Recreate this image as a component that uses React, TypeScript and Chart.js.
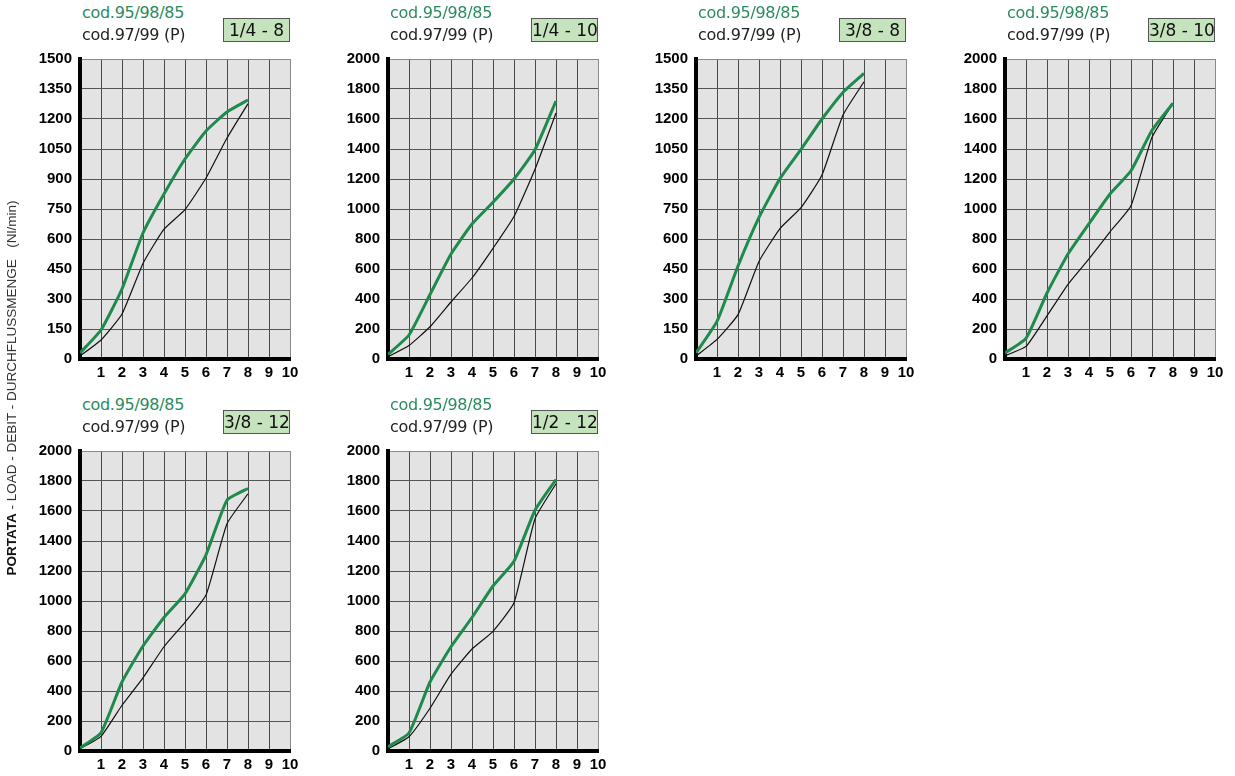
import React, { useEffect, useRef } from 'react';
import { Chart, registerables } from 'chart.js';

Chart.register(...registerables);

// ---- data ----
const xValues = [0, 1, 2, 3, 4, 5, 6, 7, 8];
const xTickLabels = ['', '1', '2', '3', '4', '5', '6', '7', '8', '9', '10'];
const panelTitles = ['1/4 - 8', '1/4 - 10', '3/8 - 8', '3/8 - 10', '3/8 - 12', '1/2 - 12'];
const yMaxValues = [1500, 2000, 1500, 2000, 2000, 2000];
const yStepValues = [150, 200, 150, 200, 200, 200];
const greenLabel = 'cod.95/98/85';
const blackLabel = 'cod.97/99 (P)';
const axisTitleBold = 'PORTATA';
const axisTitleRest = ' - LOAD - DEBIT - DURCHFLUSSMENGE';
const axisTitleUnit = '(Nl/min)';

const green_1_4_8 = [30, 145, 350, 630, 825, 1000, 1140, 1235, 1295];
const black_1_4_8 = [15, 95, 225, 478, 649, 747, 905, 1105, 1277];
const green_1_4_10 = [30, 160, 430, 700, 900, 1045, 1200, 1395, 1720];
const black_1_4_10 = [15, 90, 215, 380, 540, 738, 950, 1265, 1640];
const green_3_8_8 = [30, 188, 465, 708, 902, 1048, 1200, 1333, 1428];
const black_3_8_8 = [15, 98, 222, 488, 652, 757, 920, 1220, 1386];
const green_3_8_10 = [40, 138, 440, 700, 902, 1100, 1255, 1525, 1705];
const black_3_8_10 = [22, 84, 288, 498, 667, 848, 1022, 1478, 1705];
const green_3_8_12 = [20, 122, 460, 700, 890, 1048, 1308, 1672, 1750];
const black_3_8_12 = [15, 98, 305, 488, 695, 858, 1040, 1515, 1715];
const green_1_2_12 = [28, 120, 460, 695, 890, 1100, 1265, 1605, 1810];
const black_1_2_12 = [15, 95, 285, 512, 680, 798, 988, 1548, 1782];

const greenSeries = [green_1_4_8, green_1_4_10, green_3_8_8, green_3_8_10, green_3_8_12, green_1_2_12];
const blackSeries = [black_1_4_8, black_1_4_10, black_3_8_8, black_3_8_10, black_3_8_12, black_1_2_12];

// ---- layout ----
const PLOT_LEFTS = [80, 388, 696, 1005, 80, 388];
const PLOT_TOPS = [52, 52, 52, 52, 444, 444];
const PLOT_W = 210;
const PLOT_H = 307;
const Y_AXIS_W = 75;
const X_AXIS_H = 30;
const PAD_TOP = 10;
const PAD_RIGHT = 25;
const GREEN_LINE = '#1e8a4c';
const GREEN_TEXT = '#2a8c5c';
const TICK_FONT = { family: '"Liberation Sans", Arial, sans-serif', size: 15, weight: 'bold' };

const bgPlugin = {
  id: 'plotBg',
  beforeDraw(chart: any) {
    const { ctx, chartArea } = chart;
    if (!chartArea) return;
    ctx.save();
    ctx.fillStyle = '#e3e3e3';
    ctx.fillRect(chartArea.left, chartArea.top, chartArea.right - chartArea.left, chartArea.bottom - chartArea.top);
    ctx.restore();
  },
};

function Panel({ idx }: { idx: number }) {
  const ref = useRef<HTMLCanvasElement | null>(null);
  const left = PLOT_LEFTS[idx];
  const top = PLOT_TOPS[idx];
  const cw = Y_AXIS_W + PLOT_W + PAD_RIGHT;
  const ch = PAD_TOP + PLOT_H + X_AXIS_H;

  useEffect(() => {
    if (!ref.current) return;
    const yMax = yMaxValues[idx];
    const chart = new Chart(ref.current, {
      type: 'line',
      data: {
        datasets: [
          {
            label: greenLabel,
            data: xValues.map((x, i) => ({ x, y: greenSeries[idx][i] })),
            borderColor: GREEN_LINE,
            borderWidth: 3,
            pointRadius: 0,
            tension: 0.15,
            fill: false,
          },
          {
            label: blackLabel,
            data: xValues.map((x, i) => ({ x, y: blackSeries[idx][i] })),
            borderColor: '#111',
            borderWidth: 1.2,
            pointRadius: 0,
            tension: 0.15,
            fill: false,
          },
        ],
      },
      options: {
        animation: false,
        responsive: false,
        layout: { padding: { top: PAD_TOP, right: PAD_RIGHT, left: 0, bottom: 0 } },
        plugins: { legend: { display: false }, tooltip: { enabled: false } },
        scales: {
          x: {
            type: 'linear',
            min: 0,
            max: 10,
            afterFit: (s: any) => { s.height = X_AXIS_H; },
            ticks: {
              stepSize: 1,
              autoSkip: false,
              maxRotation: 0,
              padding: 5,
              color: '#000',
              font: TICK_FONT,
              callback: (v: any) => xTickLabels[Number(v)] ?? '',
            },
            grid: {
              drawTicks: false,
              color: (c: any) => (c.tick && c.tick.value === 10 ? '#8a8a8a' : '#4a4a4a'),
              lineWidth: 1,
            },
            border: { color: '#000', width: 4 },
          },
          y: {
            type: 'linear',
            min: 0,
            max: yMax,
            afterFit: (s: any) => { s.width = Y_AXIS_W; },
            ticks: {
              stepSize: yStepValues[idx],
              autoSkip: false,
              padding: 8,
              color: '#000',
              font: TICK_FONT,
              callback: (v: any) => String(v),
            },
            grid: {
              drawTicks: false,
              color: (c: any) => (c.tick && c.tick.value === yMax ? '#8a8a8a' : '#555'),
              lineWidth: 1,
            },
            border: { color: '#000', width: 4 },
          },
        },
      },
      plugins: [bgPlugin],
    } as any);
    return () => chart.destroy();
  }, [idx]);

  return (
    <>
      <canvas
        ref={ref}
        width={cw}
        height={ch}
        style={{ position: 'absolute', left: left - Y_AXIS_W, top: top - PAD_TOP, width: cw, height: ch, display: 'block' }}
      />
      <div
        style={{
          position: 'absolute', left: left + 2, top: top - 48, font: '16px "DejaVu Sans", Verdana, sans-serif',
          color: GREEN_TEXT, whiteSpace: 'nowrap', lineHeight: '18px', letterSpacing: '-0.3px',
        }}
      >
        {greenLabel}
      </div>
      <div
        style={{
          position: 'absolute', left: left + 2, top: top - 26, font: '16px "DejaVu Sans", Verdana, sans-serif',
          color: '#222', whiteSpace: 'nowrap', lineHeight: '18px', letterSpacing: '-0.3px',
        }}
      >
        {blackLabel}
      </div>
      <div
        style={{
          position: 'absolute', left: left + PLOT_W - 67, top: top - 34, width: 67, height: 24,
          boxSizing: 'border-box', background: '#c5e3bd', border: '1px solid #555',
          font: '17px "DejaVu Sans", Verdana, sans-serif', color: '#111', textAlign: 'center',
          lineHeight: '22px', whiteSpace: 'pre',
        }}
      >
        {panelTitles[idx]}
      </div>
    </>
  );
}

export default function App() {
  return (
    <div style={{ position: 'absolute', left: 0, top: 0, width: 1235, height: 776, background: '#fff', overflow: 'hidden' }}>
      {panelTitles.map((_, i) => (
        <Panel key={i} idx={i} />
      ))}
      <div
        style={{
          position: 'absolute', left: 12 - 220, top: 388 - 8, width: 440, height: 16,
          transform: 'rotate(-90deg)', transformOrigin: '50% 50%', textAlign: 'center',
          font: '13.5px "Liberation Sans", Arial, sans-serif', color: '#333', whiteSpace: 'pre', lineHeight: '16px',
        }}
      >
        <span style={{ fontWeight: 'bold', color: '#111' }}>{axisTitleBold}</span>
        {axisTitleRest}
        {'   '}
        {axisTitleUnit}
      </div>
    </div>
  );
}
